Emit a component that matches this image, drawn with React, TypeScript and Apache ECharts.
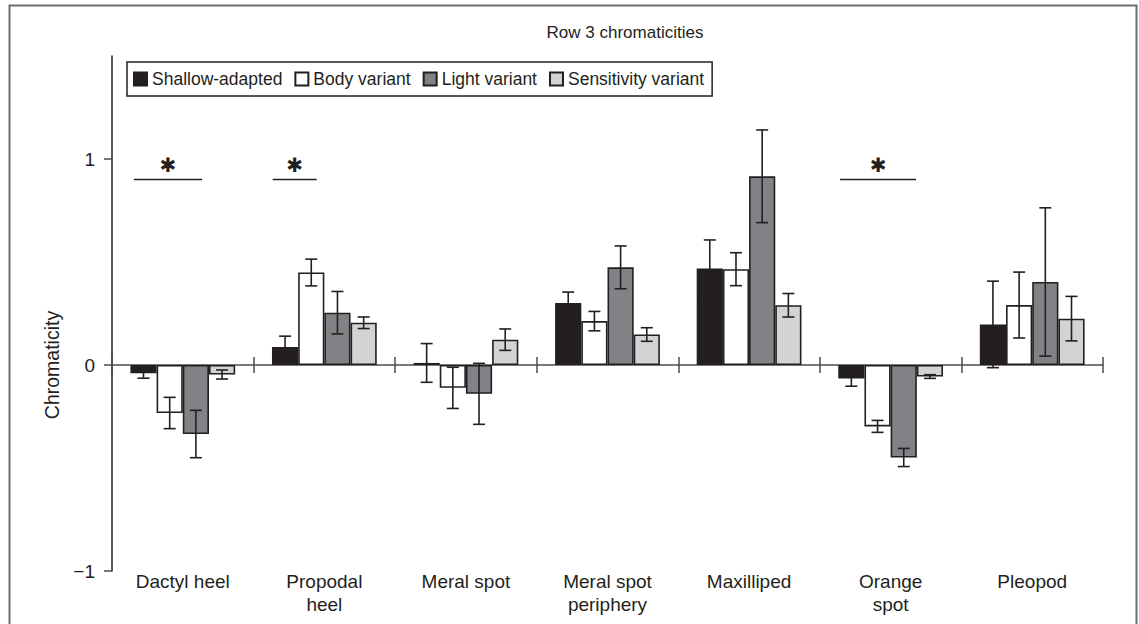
import React, { useEffect, useRef } from "react";
import * as echarts from "echarts";

// Body regions along the category axis
const categories = [
  "Dactyl heel",
  "Propodal\nheel",
  "Meral spot",
  "Meral spot\nperiphery",
  "Maxilliped",
  "Orange\nspot",
  "Pleopod",
];

const seriesNames = ["Shallow-adapted", "Body variant", "Light variant", "Sensitivity variant"];

// Mean chromaticity and error half-width per region
const shallowMean = [-0.04, 0.087, 0.01, 0.301, 0.468, -0.066, 0.197];
const shallowErr = [0.024, 0.053, 0.094, 0.053, 0.139, 0.037, 0.21];
const bodyMean = [-0.233, 0.449, -0.111, 0.213, 0.465, -0.298, 0.291];
const bodyErr = [0.076, 0.065, 0.1, 0.047, 0.08, 0.029, 0.16];
const lightMean = [-0.335, 0.254, -0.14, 0.474, 0.916, -0.449, 0.403];
const lightErr = [0.115, 0.103, 0.148, 0.104, 0.225, 0.044, 0.36];
const sensMean = [-0.046, 0.205, 0.123, 0.148, 0.29, -0.056, 0.225];
const sensErr = [0.022, 0.028, 0.052, 0.033, 0.057, 0.009, 0.108];

const yTicks = [-1, 0, 1];
const yMin = -1;
const yMax = 1.5;

// Significance brackets: region index, bracket level, span relative to the band centre
const sigCategory = [0, 1, 5];
const sigLevel = [0.9, 0.9, 0.9];
const sigFrom = [-0.345, -0.365, -0.357];
const sigTo = [0.136, -0.054, 0.179];

const FONT = '"Liberation Sans", Arial, Helvetica, sans-serif';
const INK = "#231f20";
const AXIS = "#4d4d4f";
const fills = ["#231f20", "#ffffff", "#808285", "#d1d3d4"];
const CATEGORY_GAP = 0.26;

export default function App() {
  const ref = useRef<HTMLDivElement>(null);

  useEffect(() => {
    if (!ref.current) return;
    const chart = echarts.init(ref.current, null, { renderer: "svg" });

    const means = [shallowMean, bodyMean, lightMean, sensMean];
    const errs = [shallowErr, bodyErr, lightErr, sensErr];

    const errorData: number[][] = [];
    means.forEach((m, s) => {
      m.forEach((v, c) => {
        errorData.push([c, s, v - errs[s][c], v + errs[s][c]]);
      });
    });

    const sigData = sigCategory.map((c, i) => [c, sigLevel[i], sigFrom[i], sigTo[i]]);

    const barSeries = seriesNames.map((name, s) => ({
      name,
      type: "bar",
      xAxisIndex: 0,
      yAxisIndex: 0,
      data: means[s],
      barGap: "0%",
      barCategoryGap: `${CATEGORY_GAP * 100}%`,
      itemStyle: { color: fills[s], borderColor: INK, borderWidth: 1.6 },
      emphasis: { disabled: true },
      z: 2,
    }));

    const option: any = {
      animation: false,
      textStyle: { fontFamily: FONT },
      title: {
        text: "Row 3 chromaticities",
        left: 620,
        top: 19,
        textAlign: "center",
        textStyle: { fontFamily: FONT, fontSize: 17, fontWeight: "normal", color: INK },
      },
      legend: {
        data: seriesNames,
        left: 127,
        top: 62,
        orient: "horizontal",
        icon: "rect",
        itemWidth: 13,
        itemHeight: 13,
        itemGap: 12,
        padding: [8, 8, 8, 6],
        borderColor: INK,
        borderWidth: 1.5,
        textStyle: { fontFamily: FONT, fontSize: 17.5, color: INK },
        selectedMode: false,
      },
      grid: { left: 112, right: 36, top: 56, bottom: 53, containLabel: false },
      xAxis: [
        {
          // zero line with ticks hanging below
          type: "category",
          data: categories,
          position: "bottom",
          axisLine: { onZero: true, onZeroAxisIndex: 0, lineStyle: { color: AXIS, width: 1.5 } },
          axisTick: { show: true, length: 8, inside: false, lineStyle: { color: AXIS, width: 1.5 } },
          axisLabel: { show: false },
          splitLine: { show: false },
        },
        {
          // ticks rising above the zero line
          type: "category",
          data: categories,
          position: "bottom",
          axisLine: { show: false, onZero: true, onZeroAxisIndex: 1 },
          axisTick: { show: true, length: 8, inside: true, lineStyle: { color: AXIS, width: 1.5 } },
          axisLabel: { show: false },
          splitLine: { show: false },
        },
        {
          // region names along the bottom
          type: "category",
          data: categories,
          position: "bottom",
          axisLine: { show: false, onZero: false },
          axisTick: { show: false },
          axisLabel: {
            show: true,
            margin: -1,
            interval: 0,
            fontFamily: FONT,
            fontSize: 19,
            lineHeight: 23,
            color: INK,
            verticalAlign: "top",
          },
          splitLine: { show: false },
        },
      ],
      yAxis: [
        {
          type: "value",
          min: yMin,
          max: yMax,
          position: "left",
          axisLine: { show: true, lineStyle: { color: INK, width: 1.5 } },
          axisTick: { show: true, length: 8, customValues: yTicks, lineStyle: { color: AXIS, width: 1.5 } },
          axisLabel: {
            customValues: yTicks,
            margin: 17,
            fontFamily: FONT,
            fontSize: 19,
            color: INK,
            formatter: (v: number) => String(v).replace("-", "\u2212"),
          },
          splitLine: { show: false },
        },
        {
          type: "value",
          min: yMin,
          max: yMax,
          position: "right",
          show: false,
          axisLine: { show: false },
          axisTick: { show: false },
          axisLabel: { show: false },
          splitLine: { show: false },
        },
      ],
      graphic: [
        {
          type: "rect",
          shape: { x: 9.5, y: 5.5, width: 1127, height: 700 },
          style: { fill: "none", stroke: "#6d6e71", lineWidth: 2 },
          silent: true,
        },
        {
          type: "text",
          x: 52,
          y: 365,
          rotation: Math.PI / 2,
          style: {
            text: "Chromaticity",
            fontFamily: FONT,
            fontSize: 19.5,
            fill: INK,
            textAlign: "center",
            textVerticalAlign: "middle",
          },
          silent: true,
        },
      ],
      series: [
        ...barSeries,
        {
          type: "custom",
          name: "errors",
          xAxisIndex: 0,
          yAxisIndex: 0,
          data: errorData,
          z: 5,
          silent: true,
          renderItem: (_params: any, api: any) => {
            const cat = api.value(0);
            const slot = api.value(1);
            const lo = api.value(2);
            const hi = api.value(3);
            const band = api.size([1, 0])[0];
            const bw = (band * (1 - CATEGORY_GAP)) / 4;
            const base = api.coord([cat, lo]);
            const top = api.coord([cat, hi]);
            const x = base[0] + (slot - 1.5) * bw;
            const cap = 6;
            const st = { stroke: INK, lineWidth: 1.6 };
            return {
              type: "group",
              children: [
                { type: "line", shape: { x1: x, y1: base[1], x2: x, y2: top[1] }, style: st },
                { type: "line", shape: { x1: x - cap, y1: base[1], x2: x + cap, y2: base[1] }, style: st },
                { type: "line", shape: { x1: x - cap, y1: top[1], x2: x + cap, y2: top[1] }, style: st },
              ],
            };
          },
        },
        {
          type: "custom",
          name: "significance",
          xAxisIndex: 0,
          yAxisIndex: 0,
          data: sigData,
          z: 5,
          silent: true,
          renderItem: (_params: any, api: any) => {
            const p = api.coord([api.value(0), api.value(1)]);
            const band = api.size([1, 0])[0];
            const x1 = p[0] + api.value(2) * band;
            const x2 = p[0] + api.value(3) * band;
            return {
              type: "group",
              children: [
                {
                  type: "line",
                  shape: { x1, y1: p[1], x2, y2: p[1] },
                  style: { stroke: INK, lineWidth: 1.5 },
                },
                {
                  type: "text",
                  x: (x1 + x2) / 2,
                  y: p[1] - 15,
                  style: {
                    text: "\u2731",
                    fontFamily: '"DejaVu Sans", sans-serif',
                    fontSize: 20,
                    fill: INK,
                    textAlign: "center",
                    textVerticalAlign: "middle",
                  },
                },
              ],
            };
          },
        },
      ],
    };

    chart.setOption(option);
    return () => chart.dispose();
  }, []);

  return (
    <div
      ref={ref}
      style={{ position: "absolute", left: 0, top: 0, width: 1139, height: 624, background: "#fff" }}
    />
  );
}
